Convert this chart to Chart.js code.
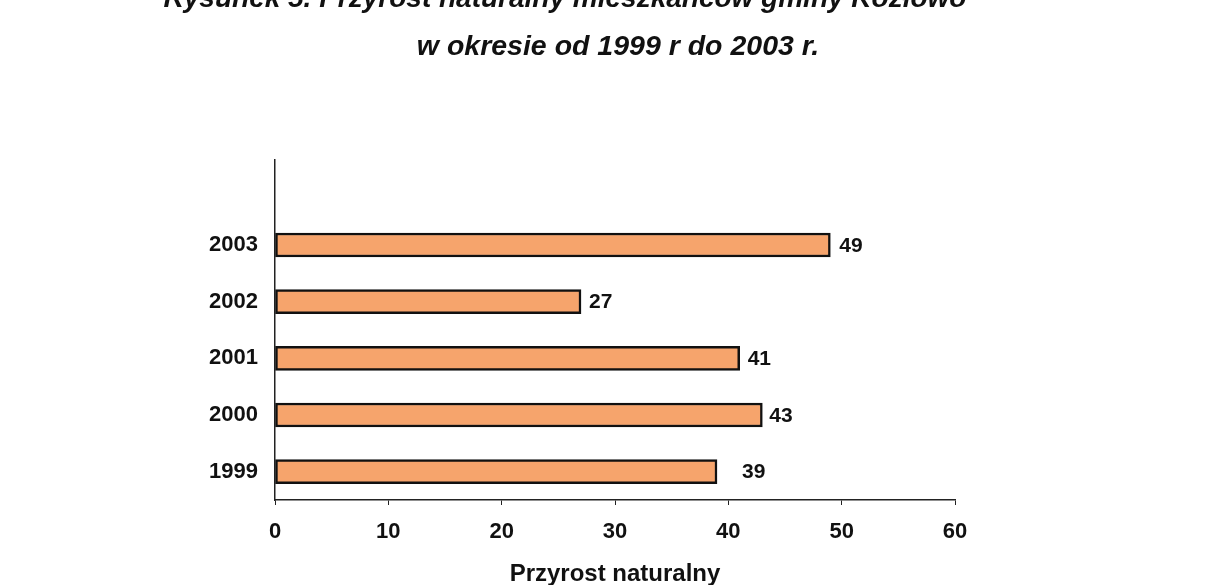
<!DOCTYPE html>
<html><head><meta charset="utf-8">
<script src="https://cdn.jsdelivr.net/npm/chart.js@4.4.1/dist/chart.umd.min.js"></script>
<style>
html,body{margin:0;padding:0;background:#fff;}
#wrap{position:relative;width:1223px;height:585px;overflow:hidden;background:#fff;}
#c{position:absolute;left:0;top:0;}
.t{position:absolute;font-family:"Liberation Sans",Arial,sans-serif;font-weight:bold;font-style:italic;white-space:nowrap;color:#111;transform:translateX(-50%);line-height:1;}
</style></head><body>
<div id="wrap">
<canvas id="c" width="1223" height="585"></canvas>
<div class="t" id="t1" style="left:565px;top:-16px;font-size:28px;">Rysunek 5. Przyrost naturalny mieszkańców gminy Kozłowo</div>
<div class="t" id="t2" style="left:618px;top:31px;font-size:28.5px;">w okresie od 1999 r do 2003 r.</div>
</div>
<script>
const years = ['1999', '2000', '2001', '2002', '2003'];
const values = [39, 43, 41, 27, 49];
const slots = [0, 1, 2, 3, 4];
const xTicks = [0, 10, 20, 30, 40, 50, 60];
const axisTitle = 'Przyrost naturalny';
const labelGap = [25, 7, 8, 8, 9];

const FONT = '"Liberation Sans", Arial, sans-serif';

const valueLabels = {
  id: 'valueLabels',
  afterDatasetsDraw(chart) {
    const ctx = chart.ctx;
    const meta = chart.getDatasetMeta(0);
    ctx.save();
    ctx.font = 'bold 21px ' + FONT;
    ctx.fillStyle = '#111';
    ctx.textBaseline = 'middle';
    ctx.textAlign = 'left';
    meta.data.forEach((bar, i) => {
      ctx.fillText(String(values[i]), bar.x + labelGap[i], bar.y + 1);
    });
    ctx.restore();
  }
};

new Chart(document.getElementById('c'), {
  type: 'bar',
  data: {
    datasets: [{
      data: values.map((v, i) => ({ x: v, y: slots[i] })),
      backgroundColor: '#F6A46C',
      borderColor: '#111',
      borderWidth: 2.5,
      borderSkipped: false,
      barThickness: 24
    }]
  },
  options: {
    indexAxis: 'y',
    responsive: false,
    animation: false,
    layout: { padding: { left: 0, top: 160, right: 268, bottom: 0 } },
    plugins: { legend: { display: false }, tooltip: { enabled: false } },
    scales: {
      x: {
        type: 'linear',
        min: xTicks[0],
        max: xTicks[xTicks.length - 1],
        offset: false,
        afterBuildTicks: s => { s.ticks = xTicks.map(v => ({ value: v })); },
        ticks: { color: '#111', font: { family: FONT, size: 22, weight: 'bold' }, padding: 14, maxRotation: 0 },
        grid: { drawOnChartArea: false, drawTicks: true, tickLength: 5, color: '#222', lineWidth: 1, offset: false },
        border: { color: '#222', width: 1.5 },
        title: { display: true, text: axisTitle, color: '#111', font: { family: FONT, size: 24, weight: 'bold' }, padding: { top: 5, bottom: -4 } },
        afterFit: s => { s.height = 85; }
      },
      y: {
        type: 'linear',
        min: -0.5,
        max: 5.5,
        offset: false,
        afterBuildTicks: s => { s.ticks = slots.map(v => ({ value: v })); },
        ticks: { color: '#111', font: { family: FONT, size: 22, weight: 'bold' }, padding: 17,
          callback: v => years[slots.indexOf(v)] },
        grid: { display: false, drawTicks: false, offset: false },
        border: { display: true, color: '#222', width: 1.5 },
        afterFit: s => { s.width = 275; }
      }
    }
  },
  plugins: [valueLabels]
});
</script>
</body></html>
